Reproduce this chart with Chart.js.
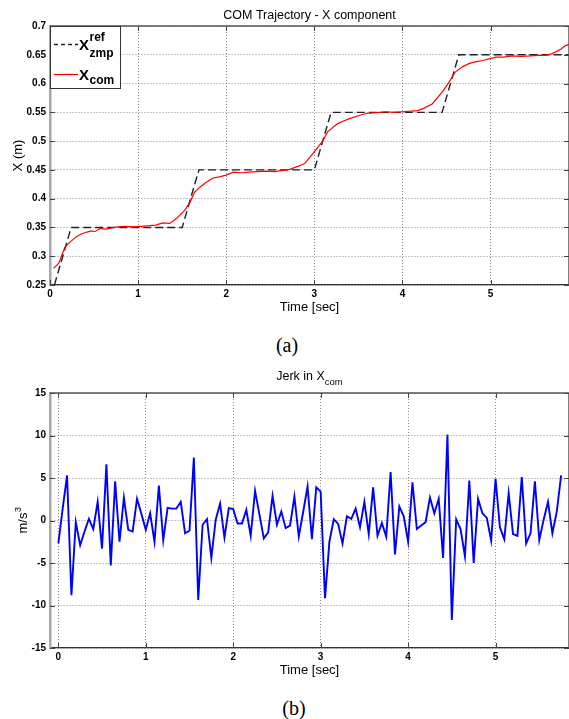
<!DOCTYPE html>
<html>
<head>
<meta charset="utf-8">
<script src="https://cdn.jsdelivr.net/npm/chart.js@4"></script>
<style>
  html, body { margin: 0; padding: 0; background: #fff; overflow: hidden; }
  canvas { position: absolute; left: 0; }
  .cap { position: absolute; font-family: 'Liberation Serif', 'DejaVu Serif', serif; font-size: 20px; color: #000; transform: translate(-50%, -50%); }
</style>
</head>
<body>
<canvas id="top" width="580" height="320" style="top:0"></canvas>
<canvas id="bottom" width="580" height="320" style="top:360px"></canvas>
<div class="cap" style="left:287px; top:345px">(a)</div>
<div class="cap" style="left:294px; top:708px">(b)</div>
<script>
// X_com trajectory (red)
var comTime = [0.04, 0.1, 0.17, 0.23, 0.3, 0.36, 0.42, 0.47, 0.51, 0.57, 0.64, 0.7, 0.76, 0.85, 0.94, 1.03, 1.13, 1.2, 1.28, 1.36, 1.43,
  1.53, 1.59, 1.64, 1.7, 1.77, 1.85, 1.92, 2.0, 2.08, 2.17, 2.26, 2.35, 2.45, 2.55, 2.64, 2.72, 2.81, 2.89, 2.98,
  3.09, 3.15, 3.26, 3.33, 3.4, 3.5, 3.59, 3.67, 3.74, 3.82, 3.9, 4.0, 4.1, 4.17, 4.23, 4.34, 4.45, 4.53, 4.6,
  4.68, 4.76, 4.84, 4.91, 5.06, 5.15, 5.25, 5.35, 5.45, 5.55, 5.62, 5.68, 5.74, 5.8, 5.85, 5.89];
var comValue = [0.279, 0.288, 0.316, 0.325, 0.334, 0.339, 0.342, 0.344, 0.343, 0.348, 0.347, 0.349, 0.351, 0.352, 0.351, 0.352, 0.353, 0.354, 0.358, 0.357, 0.365,
  0.38, 0.394, 0.411, 0.42, 0.428, 0.436, 0.438, 0.441, 0.446, 0.445, 0.446, 0.447, 0.448, 0.447, 0.449, 0.451, 0.456, 0.461, 0.478,
  0.499, 0.516, 0.53, 0.535, 0.539, 0.544, 0.548, 0.549, 0.55, 0.551, 0.55, 0.551, 0.552, 0.553, 0.556, 0.565, 0.585, 0.603, 0.62,
  0.629, 0.635, 0.638, 0.64, 0.646, 0.646, 0.648, 0.647, 0.648, 0.649, 0.649, 0.651, 0.655, 0.66, 0.666, 0.668];

// X_zmp reference (black dashed)
var refTime = [0.05, 0.24, 1.5, 1.69, 3.0, 3.19, 4.45, 4.64, 5.89];
var refValue = [0.25, 0.35, 0.35, 0.45, 0.45, 0.55, 0.55, 0.65, 0.65];

// jerk of X_com (blue)
var jerkTime = [0, 0.05, 0.1, 0.15, 0.2, 0.25, 0.3, 0.35, 0.4, 0.45,
  0.5, 0.55, 0.6, 0.65, 0.7, 0.75, 0.8, 0.85, 0.9, 0.95,
  1, 1.05, 1.1, 1.15, 1.2, 1.25, 1.3, 1.35, 1.4, 1.45,
  1.5, 1.55, 1.6, 1.65, 1.7, 1.75, 1.8, 1.85, 1.9, 1.95,
  2, 2.05, 2.1, 2.15, 2.2, 2.25, 2.3, 2.35, 2.4, 2.45,
  2.5, 2.55, 2.6, 2.65, 2.7, 2.75, 2.8, 2.85, 2.9, 2.95,
  3, 3.05, 3.1, 3.15, 3.2, 3.25, 3.3, 3.35, 3.4, 3.45,
  3.5, 3.55, 3.6, 3.65, 3.7, 3.75, 3.8, 3.85, 3.9, 3.95,
  4, 4.05, 4.1, 4.15, 4.2, 4.25, 4.3, 4.35, 4.4, 4.45,
  4.5, 4.55, 4.6, 4.65, 4.7, 4.75, 4.8, 4.85, 4.9, 4.95,
  5, 5.05, 5.1, 5.15, 5.2, 5.25, 5.3, 5.35, 5.4, 5.45,
  5.5, 5.55, 5.6, 5.65, 5.7, 5.75];
var jerkValue = [-2.7, 1.4, 5.3, -8.8, -0.2, -2.9, -1.3, 0.2, -1.0, 2.2,
  -3.3, 6.6, -5.3, 4.6, -2.5, 2.7, -1.1, -1.3, 2.55, 0.8,
  -1.1, 0.85, -2.5, 4.1, -2.3, 1.5, 1.4, 1.4, 2.2, -1.5,
  -1.2, 7.4, -9.35, -0.5, 0.15, -4.4, 0.1, 2.0, -2.0, 1.45,
  1.35, -0.35, -0.35, 1.25, -1.8, 3.5, 0.7, -2.1, -1.4, 2.9,
  -0.5, 1.05, -0.9, -0.6, 2.8, -1.9, 1.0, 4.0, -2.2, 3.9,
  3.4, -9.15, -2.5, 0.15, -0.4, -2.7, 0.5, 0.2, 1.4, -0.8,
  2.2, -1.6, 3.9, -1.8, -0.3, -1.9, 5.7, -4.0, 1.65, 0.5,
  -2.5, 4.5, -1.0, -0.6, -0.2, 2.7, 0.85, 2.55, -4.4, 10.1,
  -11.7, 0.15, -1.0, -4.2, 4.7, -5.0, 2.55, 0.85, 0.3, -2.35,
  4.9, -0.8, -2.2, 3.2, -1.6, -1.8, 5.1, -2.7, -1.5, 4.6,
  -2.3, 0.1, 2.2, -1.5, 1.05, 5.3];

var timeTicks = [0, 1, 2, 3, 4, 5];
var posTicks = [0.25, 0.3, 0.35, 0.4, 0.45, 0.5, 0.55, 0.6, 0.65, 0.7];
var jerkTicks = [-15, -10, -5, 0, 5, 10, 15];

var SANS = "'Liberation Sans', Arial, Helvetica, sans-serif";
Chart.defaults.font.family = SANS;

function pairs(xs, ys) {
  return xs.map(function (x, i) { return {x: x, y: ys[i]}; });
}

function setTicks(list) {
  return function (scale) {
    scale.ticks = list.map(function (v) { return {value: v}; });
  };
}

function line(ctx, x1, y1, x2, y2) {
  ctx.beginPath();
  ctx.moveTo(x1, y1);
  ctx.lineTo(x2, y2);
  ctx.stroke();
}

// top/right box edges and MATLAB-style inward tick marks
var frame = {
  id: 'frame',
  afterDraw: function (chart) {
    var ctx = chart.ctx, a = chart.chartArea, sx = chart.scales.x, sy = chart.scales.y;
    ctx.save();
    ctx.strokeStyle = '#555';
    ctx.lineWidth = 1.5;
    line(ctx, a.left, a.top, a.right, a.top);
    line(ctx, a.right, a.top, a.right, a.bottom);
    ctx.strokeStyle = '#444';
    ctx.lineWidth = 1;
    sx.ticks.forEach(function (t) {
      var px = Math.round(sx.getPixelForValue(t.value)) + 0.5;
      line(ctx, px, a.bottom, px, a.bottom - 5);
      line(ctx, px, a.top, px, a.top + 5);
    });
    sy.ticks.forEach(function (t) {
      var py = Math.round(sy.getPixelForValue(t.value)) + 0.5;
      line(ctx, a.left, py, a.left + 5, py);
      line(ctx, a.right, py, a.right - 5, py);
    });
    ctx.restore();
  }
};

function scalesFor(xMin, xMax, yMin, yMax, yTicks, xHeight) {
  var gridColor = '#8c8c8c';
  var tickFont = {family: SANS, size: 10, weight: 'bold'};
  return {
    x: {
      type: 'linear', min: xMin, max: xMax,
      afterBuildTicks: setTicks(timeTicks),
      afterFit: function (s) { s.height = xHeight; },
      grid: {color: gridColor, lineWidth: 1, drawTicks: false},
      border: {color: '#333', width: 1.2, dash: [1, 2]},
      ticks: {font: tickFont, color: '#000', padding: 3, maxRotation: 0,
        callback: function (v) { return String(v); }}
    },
    y: {
      min: yMin, max: yMax,
      afterBuildTicks: setTicks(yTicks),
      afterFit: function (s) { s.width = 50; },
      grid: {color: gridColor, lineWidth: 1, drawTicks: false},
      border: {color: '#a8a8a8', width: 2.5, dash: [1, 2]},
      ticks: {font: tickFont, color: '#000', padding: 4,
        callback: function (v) { return String(v); }}
    }
  };
}

var baseOptions = {
  responsive: false,
  animation: false,
  devicePixelRatio: 1,
  plugins: {legend: {display: false}, tooltip: {enabled: false}},
  elements: {point: {radius: 0}, line: {tension: 0}}
};

// ---- (a) COM trajectory ----
var labelsTop = {
  id: 'labelsTop',
  afterDraw: function (chart) {
    var ctx = chart.ctx, a = chart.chartArea;
    var cx = (a.left + a.right) / 2;
    ctx.save();
    ctx.fillStyle = '#000';
    ctx.font = '12.5px ' + SANS;
    ctx.textAlign = 'center';
    ctx.textBaseline = 'alphabetic';
    ctx.fillText('COM Trajectory - X component', cx, 18.5);
    ctx.font = '13px ' + SANS;
    ctx.fillText('Time [sec]', cx, 311);
    ctx.save();
    ctx.translate(21.5, (a.top + a.bottom) / 2);
    ctx.rotate(-Math.PI / 2);
    ctx.fillText('X (m)', 0, 0);
    ctx.restore();

    // legend box
    ctx.fillStyle = '#fff';
    ctx.fillRect(a.left + 1, a.top + 1, 69, 61);
    ctx.strokeStyle = '#333';
    ctx.lineWidth = 1;
    ctx.strokeRect(a.left + 0.5, a.top + 0.5, 70, 62);
    ctx.strokeStyle = '#222';
    ctx.lineWidth = 1.3;
    ctx.setLineDash([4, 3]);
    line(ctx, 54, 44.5, 78, 44.5);
    ctx.setLineDash([]);
    ctx.strokeStyle = '#ff0000';
    ctx.lineWidth = 1.2;
    line(ctx, 54, 74.5, 78, 74.5);
    ctx.fillStyle = '#000';
    ctx.textAlign = 'left';
    ctx.font = 'bold 15px ' + SANS;
    ctx.fillText('X', 79, 49.5);
    ctx.fillText('X', 79, 79.5);
    ctx.font = 'bold 12px ' + SANS;
    ctx.fillText('ref', 89.5, 41);
    ctx.fillText('zmp', 89.5, 57);
    ctx.fillText('com', 89.5, 84);
    ctx.restore();
  }
};

new Chart(document.getElementById('top'), {
  type: 'line',
  data: {
    datasets: [
      {label: 'X_com', data: pairs(comTime, comValue), borderColor: '#ff0000', borderWidth: 1.2, fill: false},
      {label: 'X_zmp ref', data: pairs(refTime, refValue), borderColor: '#222', borderWidth: 1.4, borderDash: [8, 4], fill: false}
    ]
  },
  options: Object.assign({}, baseOptions, {
    layout: {padding: {top: 26, right: 11, left: 0, bottom: 0}},
    scales: scalesFor(0, 5.89, 0.25, 0.7, posTicks, 35)
  }),
  plugins: [frame, labelsTop]
});

// ---- (b) Jerk ----
var labelsBottom = {
  id: 'labelsBottom',
  afterDraw: function (chart) {
    var ctx = chart.ctx, a = chart.chartArea;
    var cx = (a.left + a.right) / 2;
    ctx.save();
    ctx.fillStyle = '#000';
    ctx.textBaseline = 'alphabetic';
    ctx.textAlign = 'left';
    var main = 'Jerk in X', sub = 'com';
    ctx.font = '12.5px ' + SANS;
    var w1 = ctx.measureText(main).width;
    ctx.font = '9.5px ' + SANS;
    var w2 = ctx.measureText(sub).width;
    var x0 = cx - (w1 + w2) / 2;
    ctx.font = '12.5px ' + SANS;
    ctx.fillText(main, x0, 19.5);
    ctx.font = '9.5px ' + SANS;
    ctx.fillText(sub, x0 + w1, 24.5);

    ctx.font = '13px ' + SANS;
    ctx.textAlign = 'center';
    ctx.fillText('Time [sec]', cx, 313.5);

    ctx.save();
    ctx.translate(27, (a.top + a.bottom) / 2);
    ctx.rotate(-Math.PI / 2);
    ctx.font = '13px ' + SANS;
    var wm = ctx.measureText('m/s').width;
    ctx.font = '9px ' + SANS;
    var we = ctx.measureText('3').width;
    ctx.textAlign = 'left';
    ctx.font = '13px ' + SANS;
    ctx.fillText('m/s', -(wm + we) / 2, 0);
    ctx.font = '9px ' + SANS;
    ctx.fillText('3', -(wm + we) / 2 + wm + 0.5, -6);
    ctx.restore();
    ctx.restore();
  }
};

new Chart(document.getElementById('bottom'), {
  type: 'line',
  data: {
    datasets: [
      {label: 'jerk', data: pairs(jerkTime, jerkValue), borderColor: '#0000ff', borderWidth: 1.9, fill: false}
    ]
  },
  options: Object.assign({}, baseOptions, {
    layout: {padding: {top: 33, right: 11, left: 0, bottom: 0}},
    scales: scalesFor(-0.095, 5.84, -15, 15, jerkTicks, 32)
  }),
  plugins: [frame, labelsBottom]
});
</script>
</body>
</html>
